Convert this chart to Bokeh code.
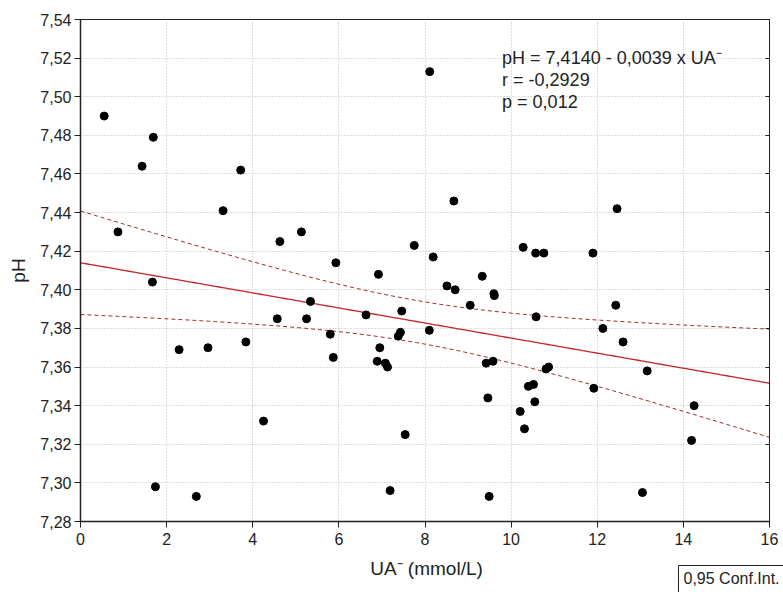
import numpy as np
from bokeh.plotting import figure
from bokeh.layouts import column
from bokeh.models import Range1d, LinearAxis, FixedTicker, CustomJSTickFormatter, Label
from bokeh.embed import file_html
from bokeh.resources import INLINE

# ---- data ----
ua = [0.55, 0.87, 1.43, 1.69, 1.67, 1.74, 2.29, 2.69, 2.96, 3.31, 3.72, 3.84,
      4.25, 4.57, 4.63, 5.13, 5.25, 5.34, 5.80, 5.87, 5.93, 6.63, 6.92, 6.95,
      6.89, 7.08, 7.13, 7.19, 7.38, 7.43, 7.46, 7.54, 7.75, 8.11, 8.10, 8.19,
      8.51, 8.67, 8.70, 9.05, 9.33, 9.42, 9.46, 9.49, 9.58, 9.60, 9.61, 10.21,
      10.28, 10.31, 10.40, 10.52, 10.57, 10.55, 10.58, 10.76, 10.81, 10.87,
      11.90, 11.92, 12.13, 12.46, 12.43, 12.60, 13.05, 13.16, 14.19, 14.25]
ph = [7.490, 7.430, 7.464, 7.479, 7.404, 7.298, 7.369, 7.293, 7.370, 7.441, 7.462, 7.373,
      7.332, 7.385, 7.425, 7.430, 7.385, 7.394, 7.377, 7.365, 7.414, 7.387, 7.408, 7.370,
      7.363, 7.362, 7.360, 7.296, 7.376, 7.378, 7.389, 7.325, 7.423, 7.513, 7.379, 7.417,
      7.402, 7.446, 7.400, 7.392, 7.407, 7.362, 7.344, 7.293, 7.363, 7.398, 7.397, 7.337,
      7.422, 7.328, 7.350, 7.351, 7.419, 7.342, 7.386, 7.419, 7.359, 7.360,
      7.419, 7.349, 7.380, 7.442, 7.392, 7.373, 7.295, 7.358, 7.322, 7.340]

fit_intercept = 7.4140
fit_slope = -0.0039
fit_text = ["pH = 7,4140 - 0,0039 x UA\u207b", "r = -0,2929", "p = 0,012"]
x_title = "UA\u207b (mmol/L)"
y_title = "pH"
legend_text = "0,95 Conf.Int."
x_ticks = [0, 2, 4, 6, 8, 10, 12, 14, 16]
y_ticks = [7.28, 7.30, 7.32, 7.34, 7.36, 7.38, 7.40, 7.42, 7.44, 7.46, 7.48, 7.50, 7.52, 7.54]
t_crit = 1.9966  # 0.95 two-sided, df = n - 2

# ---- regression line and 0.95 confidence band ----
xa = np.array(ua)
ya = np.array(ph)
n = len(xa)
resid = ya - (fit_intercept + fit_slope * xa)
s = np.sqrt(np.sum(resid ** 2) / (n - 2))
xbar = xa.mean()
sxx = np.sum((xa - xbar) ** 2)
xf = np.linspace(0, 16, 200)
yf = fit_intercept + fit_slope * xf
half = t_crit * s * np.sqrt(1.0 / n + (xf - xbar) ** 2 / sxx)

FONT = "Liberation Sans"
TXT = "#222222"
W = 783
TOP_H = 556
BOT_H = 36

p = figure(width=W, height=TOP_H, output_backend="svg", toolbar_location=None,
           x_range=Range1d(0, 16), y_range=Range1d(7.28, 7.54),
           min_border_left=80, min_border_right=14, min_border_top=19, min_border_bottom=35)
p.frame_align = False
p.background_fill_color = "white"
p.border_fill_color = "white"
p.outline_line_color = "#222222"
p.outline_line_width = 1

# grid
for g in (p.xgrid, p.ygrid):
    g.grid_line_color = "#bdbdbd"
    g.grid_line_dash = "1 2"
    g.grid_line_width = 1
p.xgrid.ticker = FixedTicker(ticks=x_ticks)
p.ygrid.ticker = FixedTicker(ticks=y_ticks)

# axes
p.xaxis.ticker = FixedTicker(ticks=x_ticks)
p.yaxis.ticker = FixedTicker(ticks=y_ticks)
p.xaxis.formatter = CustomJSTickFormatter(code="return tick.toFixed(0);")
p.yaxis.formatter = CustomJSTickFormatter(code="return tick.toFixed(2).replace('.', ',');")
for ax in (p.xaxis[0], p.yaxis[0]):
    ax.axis_line_color = "#222222"
    ax.axis_line_width = 1.5
    ax.major_tick_line_color = "#222222"
    ax.major_tick_out = 6
    ax.major_tick_in = 0
    ax.minor_tick_line_color = None
    ax.major_label_text_font = FONT
    ax.major_label_text_font_size = "16px"
    ax.major_label_text_color = TXT
    ax.axis_label_text_font = FONT
    ax.axis_label_text_font_size = "19px"
    ax.axis_label_text_font_style = "normal"
    ax.axis_label_text_color = TXT
p.yaxis.major_label_standoff = 3
p.xaxis.major_label_standoff = 5
p.yaxis.axis_label = y_title
p.yaxis.axis_label_standoff = 8

right = LinearAxis(ticker=FixedTicker(ticks=y_ticks),
                   formatter=CustomJSTickFormatter(code="return '';"),
                   major_tick_in=4, major_tick_out=0, minor_tick_line_color=None,
                   axis_line_color="#222222", major_tick_line_color="#222222")
p.add_layout(right, "right")

# band and line
p.line(xf, yf + half, line_color="#9e2a2a", line_width=1, line_dash="4 3")
p.line(xf, yf - half, line_color="#9e2a2a", line_width=1, line_dash="4 3")
p.line(xf, yf, line_color="#c4232b", line_width=1.3)

# points
p.scatter(ua, ph, size=8, marker="circle", fill_color="black", line_color="black")

# fit text
for i, t in enumerate(fit_text):
    p.add_layout(Label(x=9.79, y=7.5202 - i * 0.0115, text=t, text_baseline="alphabetic",
                       text_font=FONT, text_font_size="18px", text_color=TXT))

# bottom strip (pixel coordinates): x-axis title and the confidence-interval legend box
q = figure(width=W, height=BOT_H, output_backend="svg", toolbar_location=None,
           x_range=Range1d(0, W), y_range=Range1d(0, BOT_H),
           x_axis_type=None, y_axis_type=None,
           min_border=0, min_border_left=0, min_border_right=0,
           min_border_top=0, min_border_bottom=0)
q.frame_align = False
q.grid.visible = False
q.outline_line_color = None
q.background_fill_color = "white"
q.border_fill_color = "white"
q.add_layout(Label(x=426, y=35, text=x_title, text_align="center",
                   text_baseline="top", text_font=FONT, text_font_size="19px",
                   text_color=TXT))
q.add_layout(Label(x=678, y=27, text=legend_text, text_baseline="top",
                   text_font=FONT, text_font_size="16px", text_color=TXT,
                   border_line_color="#222222", border_line_width=1,
                   background_fill_color="white",
                   padding=dict(left=5, right=8, top=4, bottom=12)))

layout = column(p, q, spacing=0)
open("out.html", "w").write(file_html(layout, INLINE))
